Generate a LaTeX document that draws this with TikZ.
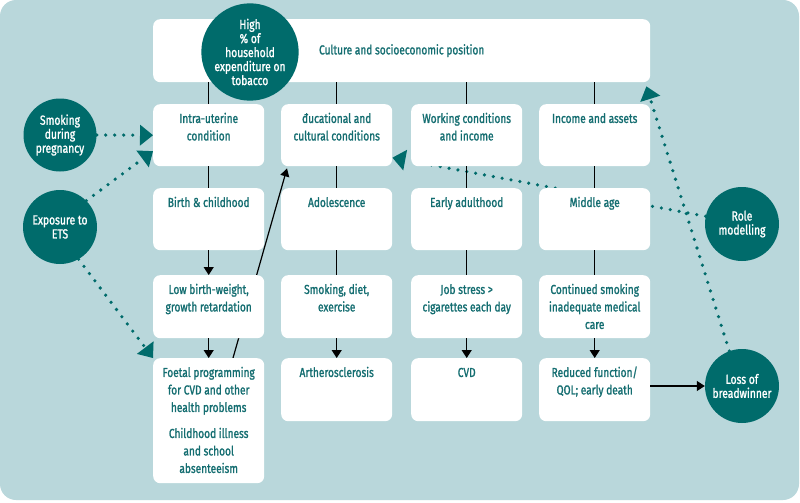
\documentclass[tikz,border=0pt]{standalone}
\usepackage{fontspec}
\setmainfont{Fira Sans}[FakeStretch=0.78, BoldFont={Fira Sans}, BoldFeatures={FakeBold=1.3}]
\usetikzlibrary{arrows.meta,calc}
\pgfdeclarelayer{bg}
\pgfsetlayers{bg,main}
\definecolor{bgc}{HTML}{B9D7DB}
\definecolor{tealc}{HTML}{006B6B}
\definecolor{txtc}{HTML}{136D70}
\newcommand{\bt}[3]{\parbox[c][#2][t]{#1}{\centering\vspace*{6.5pt}\strut #3\par}}
\tikzset{
  x=1pt,y=-1pt,
  bx/.style={fill=white,rounded corners=7pt,inner sep=0pt,anchor=north west,text=txtc,font=\fontsize{13}{17.5}\selectfont\bfseries},
  circstyle/.style={circle,fill=tealc,text=white,minimum size=#1,inner sep=0pt,align=center,font=\fontsize{13.2}{14}\selectfont\bfseries},
  bline/.style={line width=1.2pt,black},
  blk/.style={bline,-{Triangle[length=8pt,width=10pt]}},
  dotarrow/.style={tealc,line width=3.6pt,dash pattern=on 0pt off 9pt,line cap=round,-{Triangle[length=13pt,width=21pt,line width=0pt]}},
}
\begin{document}
\begin{tikzpicture}
\useasboundingbox (0,0) rectangle (800,503);
% top box
\node[bx] (top) at (153,19) {\parbox[c][63pt][c]{497pt}{\centering Culture and socioeconomic position}};
% row 1
\node[bx] (intra)  at (153,104) {\bt{111pt}{62pt}{Intra-uterine\\condition}};
\node[bx] (edu)    at (281,104) {\bt{111pt}{62pt}{đucational and\\cultural conditions}};
\node[bx] (work)   at (411,104) {\bt{111pt}{62pt}{Working conditions\\and income}};
\node[bx] (income) at (539,104) {\bt{111pt}{62pt}{Income and assets}};
% row 2
\node[bx] (birth)  at (153,188) {\bt{111pt}{62pt}{Birth \& childhood}};
\node[bx] (adol)   at (281,188) {\bt{111pt}{62pt}{Adolescence}};
\node[bx] (early)  at (411,188) {\bt{111pt}{62pt}{Early adulthood}};
\node[bx] (middle) at (539,188) {\bt{111pt}{62pt}{Middle age}};
% row 3
\node[bx] (lbw)    at (153,275) {\bt{111pt}{63pt}{Low birth-weight,\\growth retardation}};
\node[bx] (smk)    at (281,275) {\bt{111pt}{63pt}{Smoking, diet,\\exercise}};
\node[bx] (job)    at (411,275) {\bt{111pt}{63pt}{Job stress >\\cigarettes each day}};
\node[bx] (cont)   at (539,275) {\bt{111pt}{63pt}{Continued smoking\\inadequate medical\\care}};
% row 4
\node[bx] (foetal) at (153,358) {\bt{111pt}{125pt}{Foetal programming\\for CVD and other\\health problems\par\vspace{8.5pt}Childhood illness\\and school\\absenteeism}};
\node[bx] (ath)    at (281,358) {\bt{111pt}{63pt}{Artherosclerosis}};
\node[bx] (cvd)    at (411,358) {\bt{111pt}{63pt}{CVD}};
\node[bx] (red)    at (539,358) {\bt{111pt}{63pt}{Reduced function/\\QOL; early death}};
% vertical connectors
\foreach \b in {intra,edu,work,income}
  \draw[bline] (\b.north |- top.south) -- (\b.north);
\foreach \a/\b in {intra/birth,edu/adol,work/early,income/middle,adol/smk,early/job,middle/cont}
  \draw[bline] (\a.south) -- (\b.north);
\foreach \a/\b in {birth/lbw,lbw/foetal,smk/ath,job/cvd,cont/red}
  \draw[blk] (\a.south) -- (\b.north);
% circles
\node[circstyle=84pt] (high) at (250,52) {High\\\% of\\household\\expenditure on\\tobacco};
\node[circstyle=73pt] (preg) at (60,135) {Smoking\\during\\pregnancy};
\node[circstyle=74pt] (ets)  at (60,227) {Exposure to\\ETS};
\node[circstyle=74pt] (role) at (742,224) {Role\\modelling};
\node[circstyle=74pt] (loss) at (742,386) {Loss of\\breadwinner};
\draw[blk] (red.east |- loss) -- (loss.west);
% background layer
\begin{pgfonlayer}{bg}
\fill[bgc,rounded corners=16pt] (0,0) rectangle (799,500);
\draw[blk,-{Triangle[length=8pt,width=9pt]}] ($(foetal.north west)+(80,0)$) -- ($(edu.south west)+(6,2)$);
\draw[dotarrow] (preg.east) -- (intra.west);
\draw[dotarrow] (ets.45) -- (intra.196);
\draw[dotarrow] (ets.-60) -- (foetal.north west);
\draw[dotarrow] (role.168) -- (edu.-22);
\draw[dotarrow] (loss.110) -- ($(top.south east)+(-4,4)$);
\end{pgfonlayer}
\end{tikzpicture}
\end{document}
